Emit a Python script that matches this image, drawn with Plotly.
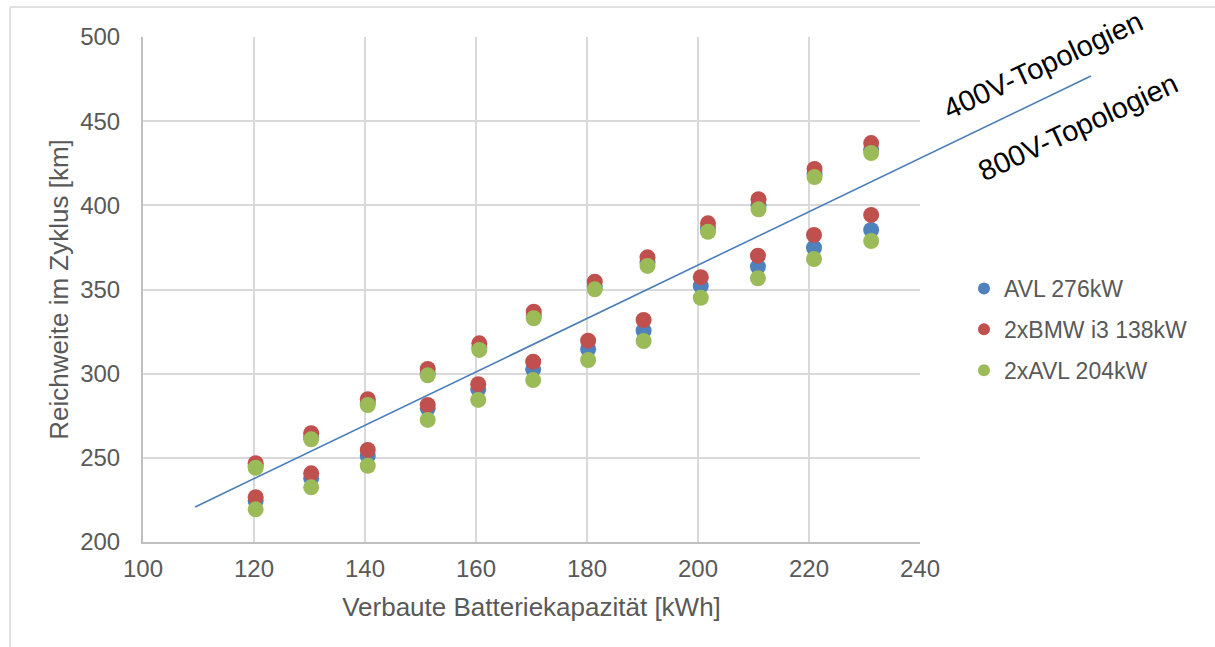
import plotly.graph_objects as go

# ---------------- data ----------------
capacity = [120.3, 130.3, 140.5, 151.3, 160.6, 170.4, 181.4, 190.9, 201.8, 210.9, 221.0, 231.2,
            120.3, 130.3, 140.5, 151.3, 160.4, 170.3, 180.2, 190.2, 200.5, 210.8, 220.9, 231.2]
avl_276 = [245.2, 262.2, 282.6, 300.2, 315.6, 334.4, 351.8, 366.0, 386.2, 399.8, 418.6, 433.2,
           224.4, 237.8, 251.1, 279.4, 290.7, 302.6, 314.5, 325.5, 352.1, 363.6, 374.8, 385.4]
bmw_i3_138 = [246.8, 264.6, 284.8, 302.8, 318.0, 336.8, 354.6, 369.1, 389.3, 403.6, 421.6, 437.0,
              226.6, 240.8, 254.7, 281.4, 293.7, 307.1, 319.6, 331.9, 357.3, 370.1, 382.4, 394.3]
avl_204 = [244.1, 261.0, 281.4, 299.0, 314.1, 332.9, 350.1, 364.0, 384.3, 397.6, 416.8, 431.1,
           219.4, 232.5, 245.3, 272.5, 284.4, 296.2, 308.1, 319.4, 345.1, 356.7, 368.1, 378.8]
series_names = ["AVL 276kW", "2xBMW i3 138kW", "2xAVL 204kW"]
trend_x = [109.4, 270.8]
trend_y = [220.8, 476.8]
x_ticks = [100, 120, 140, 160, 180, 200, 220, 240]
y_ticks = [200, 250, 300, 350, 400, 450, 500]

# ---------------- geometry ----------------
W, H = 1215, 647
ml, mr, mt, mb = 10, 0, 7, 0
pw, ph = W - ml - mr, H - mt - mb
pl, pr, ptop, pbot = 143, 920, 37, 542
xd = [(pl - ml) / pw, (pr - ml) / pw]
yd = [(H - mb - pbot) / ph, (H - mb - ptop) / ph]
xr = [x_ticks[0], x_ticks[-1]]
yr = [y_ticks[0], y_ticks[-1]]
sx = (xr[1] - xr[0]) / (pr - pl)
x2r = [xr[0] - (pl - ml) * sx, xr[1] + (W - mr - pr) * sx]


def px(x):
    return (x - ml) / pw


def py(y):
    return (H - mb - y) / ph


FONT = "Liberation Sans, Arial, sans-serif"
colors = ["#4F81BD", "#C0504D", "#9BBB59"]
fig = go.Figure()
for i, (name, vals) in enumerate(zip(series_names, [avl_276, bmw_i3_138, avl_204])):
    fig.add_trace(go.Scatter(
        x=capacity, y=vals, mode="markers", name=name,
        marker=dict(size=16, color=colors[i], line=dict(width=0)),
        legendgroup=f"g{i}", cliponaxis=False,
    ))

fig.add_trace(go.Scatter(
    x=trend_x, y=trend_y, xaxis="x2", yaxis="y2", mode="lines",
    line=dict(color="#4A7EBB", width=1.6), showlegend=False, hoverinfo="skip",
))

tick_font = dict(family=FONT, size=24, color="#595959")
title_font = dict(family=FONT, size=26, color="#595959")

fig.update_layout(
    width=W, height=H,
    margin=dict(l=ml, r=mr, t=mt, b=mb, autoexpand=False),
    paper_bgcolor="white", plot_bgcolor="rgba(0,0,0,0)",
    xaxis=dict(domain=xd, range=xr, tickvals=x_ticks, showgrid=True, gridcolor="#D9D9D9",
               gridwidth=2, zeroline=False, showline=True, linecolor="#BFBFBF", linewidth=2,
               ticks="", tickfont=tick_font, ticklabelstandoff=4, automargin=False,
               title=dict(text="Verbaute Batteriekapazität [kWh]", font=title_font, standoff=17),
               anchor="y"),
    yaxis=dict(domain=yd, range=yr, tickvals=y_ticks, showgrid=True, gridcolor="#D9D9D9",
               gridwidth=2, zeroline=False, showline=True, linecolor="#BFBFBF", linewidth=2,
               ticks="", tickfont=tick_font, ticklabelstandoff=16, automargin=False,
               title=dict(text="Reichweite im Zyklus [km]", font=title_font, standoff=4),
               anchor="x"),
    xaxis2=dict(domain=[0, 1], range=x2r, visible=False, anchor="y2", fixedrange=True,
                showgrid=False, automargin=False),
    yaxis2=dict(domain=yd, range=yr, visible=False, anchor="x2", fixedrange=True,
                showgrid=False, automargin=False),
    legend=dict(x=px(964), y=py(267), xanchor="left", yanchor="top",
                font=dict(family=FONT, size=23, color="#595959"),
                tracegroupgap=8, bgcolor="rgba(0,0,0,0)", itemsizing="constant"),
    showlegend=True,
)

fig.add_annotation(text="400V-Topologien", x=px(1043), y=py(65), xref="paper", yref="paper",
                   xanchor="center", yanchor="middle",
                   showarrow=False, textangle=-25,
                   font=dict(family=FONT, size=29, color="black"))
fig.add_annotation(text="800V-Topologien", x=px(1078), y=py(127), xref="paper", yref="paper",
                   xanchor="center", yanchor="middle",
                   showarrow=False, textangle=-25,
                   font=dict(family=FONT, size=29, color="black"))

# outer chart frame (top and left edges visible)
fig.add_shape(type="line", xref="paper", yref="paper", x0=0, x1=1, y0=1, y1=1,
              line=dict(color="#D9D9D9", width=1.5), layer="below")
fig.add_shape(type="line", xref="paper", yref="paper", x0=0, x1=0, y0=0, y1=1,
              line=dict(color="#D9D9D9", width=1.5), layer="below")

fig.write_html("out.html")
